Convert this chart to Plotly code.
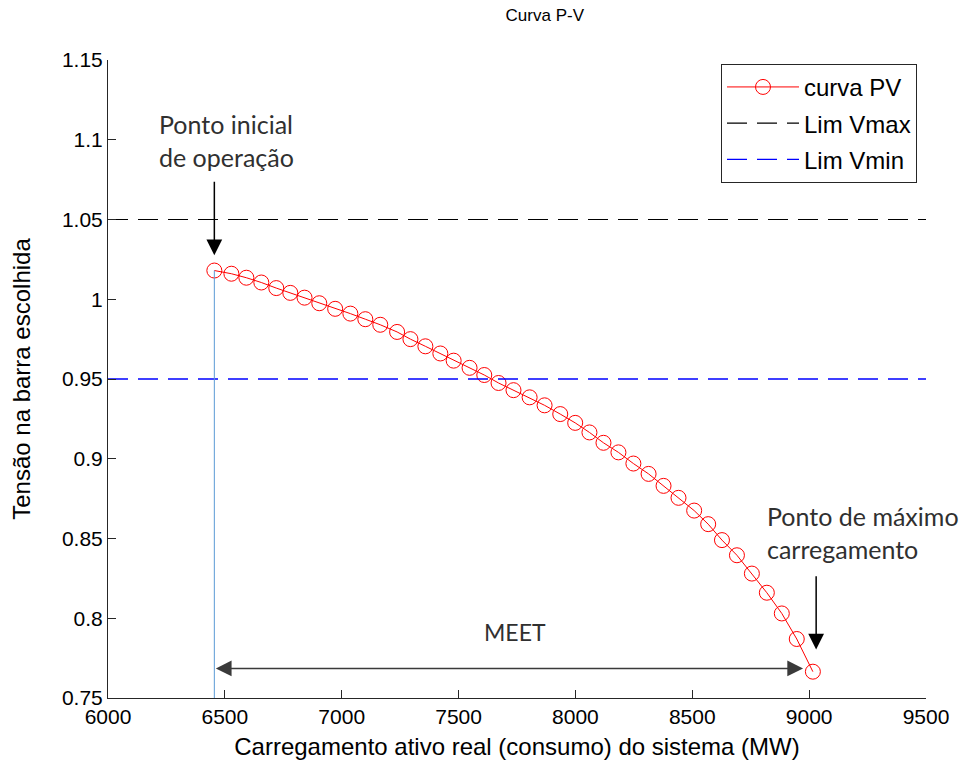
import plotly.graph_objects as go

# ---- data ----
carga_mw = [6455, 6528, 6592, 6656, 6720, 6780, 6841, 6904, 6972, 7037,
            7101, 7165, 7237, 7294, 7358, 7422, 7479, 7547, 7610, 7671,
            7735, 7804, 7868, 7935, 7999, 8060, 8120, 8184, 8248, 8313,
            8377, 8441, 8508, 8568, 8627, 8691, 8755, 8819, 8883, 8947, 9016]
tensao = [1.018, 1.016, 1.0135, 1.0105, 1.007, 1.004, 1.001, 0.9975, 0.994, 0.991,
          0.9875, 0.984, 0.9795, 0.975, 0.9705, 0.966, 0.9615, 0.957, 0.9525, 0.9475,
          0.943, 0.9385, 0.9335, 0.928, 0.9225, 0.9165, 0.910, 0.904, 0.897, 0.8905,
          0.883, 0.8755, 0.8675, 0.859, 0.849, 0.8395, 0.828, 0.816, 0.803, 0.787, 0.7665]
x_range = [6000, 9500]
y_range = [0.75, 1.15]
v_max = 1.05
v_min = 0.95
x_ticks = [6000, 6500, 7000, 7500, 8000, 8500, 9000, 9500]
x_ticklabels = ["6000", "6500", "7000", "7500", "8000", "8500", "9000", "9500"]
y_ticks = [0.75, 0.8, 0.85, 0.9, 0.95, 1.0, 1.05, 1.1, 1.15]
y_ticklabels = ["0.75", "0.8", "0.85", "0.9", "0.95", "1", "1.05", "1.1", "1.15"]

AX = "#262626"
SANS = "Liberation Sans, Arial, sans-serif"
TICKFONT = dict(family=SANS, size=21, color="#000000")
ANNFONT = dict(family="Lato, 'Open Sans', sans-serif", size=25, color="#303030")

fig = go.Figure()

fig.add_trace(go.Scatter(
    x=carga_mw, y=tensao, mode="lines+markers", name="curva PV", legendgroup="a",
    line=dict(color="#ff0000", width=1),
    marker=dict(symbol="circle-open", size=15, color="#ff0000", line=dict(width=1, color="#ff0000")),
))
fig.add_trace(go.Scatter(
    x=x_range, y=[v_max, v_max], mode="lines", name="Lim Vmax", legendgroup="b",
    line=dict(color="#000000", width=1.1, dash="20px,10px"),
))
fig.add_trace(go.Scatter(
    x=x_range, y=[v_min, v_min], mode="lines", name="Lim Vmin", legendgroup="c",
    line=dict(color="#0000ff", width=1.4, dash="20px,10px"),
))

# vertical marker at the initial operating point
fig.add_shape(type="line", xref="x", yref="y",
              x0=carga_mw[0], x1=carga_mw[0], y0=y_range[0], y1=tensao[0],
              line=dict(color="#5B9BD5", width=1))

# arrows
fig.add_annotation(xref="x", yref="y", axref="x", ayref="y",
                   x=carga_mw[0], y=1.0276, ax=carga_mw[0], ay=1.0746,
                   text="", showarrow=True, arrowhead=2, arrowsize=2.1, arrowwidth=1.5,
                   arrowcolor="#000000", standoff=0)
fig.add_annotation(xref="x", yref="y", axref="x", ayref="y",
                   x=9030, y=0.7804, ax=9030, ay=0.8273,
                   text="", showarrow=True, arrowhead=2, arrowsize=2.1, arrowwidth=1.5,
                   arrowcolor="#000000", standoff=0)
fig.add_annotation(xref="x", yref="y", axref="x", ayref="y",
                   x=8974, y=0.7685, ax=carga_mw[0], ay=0.7685,
                   text="", showarrow=True, arrowhead=2, startarrowhead=2,
                   arrowside="end+start", arrowsize=2.1, startarrowsize=2.1, arrowwidth=1.5,
                   arrowcolor="#3a3a3a", standoff=0, startstandoff=0)

# texts
fig.add_annotation(xref="x", yref="y", x=6210, y=1.0996, xanchor="left", yanchor="middle",
                   align="left", text="Ponto inicial<br>de operação", showarrow=False, font=ANNFONT)
fig.add_annotation(xref="x", yref="y", x=8810, y=0.8535, xanchor="left", yanchor="middle",
                   align="left", text="Ponto de máximo<br>carregamento", showarrow=False, font=ANNFONT)
fig.add_annotation(xref="x", yref="y", x=7740, y=0.7913, xanchor="center", yanchor="middle",
                   text="MEET", showarrow=False, font=dict(ANNFONT, size=23))

fig.update_layout(
    width=962, height=766,
    paper_bgcolor="white", plot_bgcolor="white",
    margin=dict(l=108, r=36, t=60, b=68, autoexpand=False),
    title=dict(text="Curva P-V", x=0.534, xref="paper", y=0.988, yref="container",
               xanchor="center", yanchor="top",
               font=dict(family=SANS, size=17, color="#000000")),
    showlegend=True,
    legend=dict(x=0.989, y=0.994, xanchor="right", yanchor="top",
                bgcolor="white", bordercolor=AX, borderwidth=1,
                font=dict(family=SANS, size=24, color="#000000"),
                traceorder="grouped", tracegroupgap=2, itemwidth=72),
    xaxis=dict(range=x_range, tickvals=x_ticks, ticktext=x_ticklabels,
               ticks="inside", ticklen=8, tickcolor=AX, showline=True, linecolor=AX, linewidth=1,
               showgrid=False, zeroline=False, tickfont=TICKFONT,
               title=dict(text="Carregamento ativo real (consumo) do sistema (MW)",
                          font=dict(family=SANS, size=24, color="#000000"),
                          standoff=10)),
    yaxis=dict(range=y_range, tickvals=y_ticks, ticktext=y_ticklabels,
               ticks="inside", ticklen=8, tickcolor=AX, showline=True, linecolor=AX, linewidth=1,
               showgrid=False, zeroline=False, tickfont=TICKFONT,
               title=dict(text="Tensão na barra escolhida",
                          font=dict(family=SANS, size=24, color="#000000"),
                          standoff=24)),
)

fig.write_html("out.html", config={"displayModeBar": False},
               post_script="document.body.style.margin='0px';")
